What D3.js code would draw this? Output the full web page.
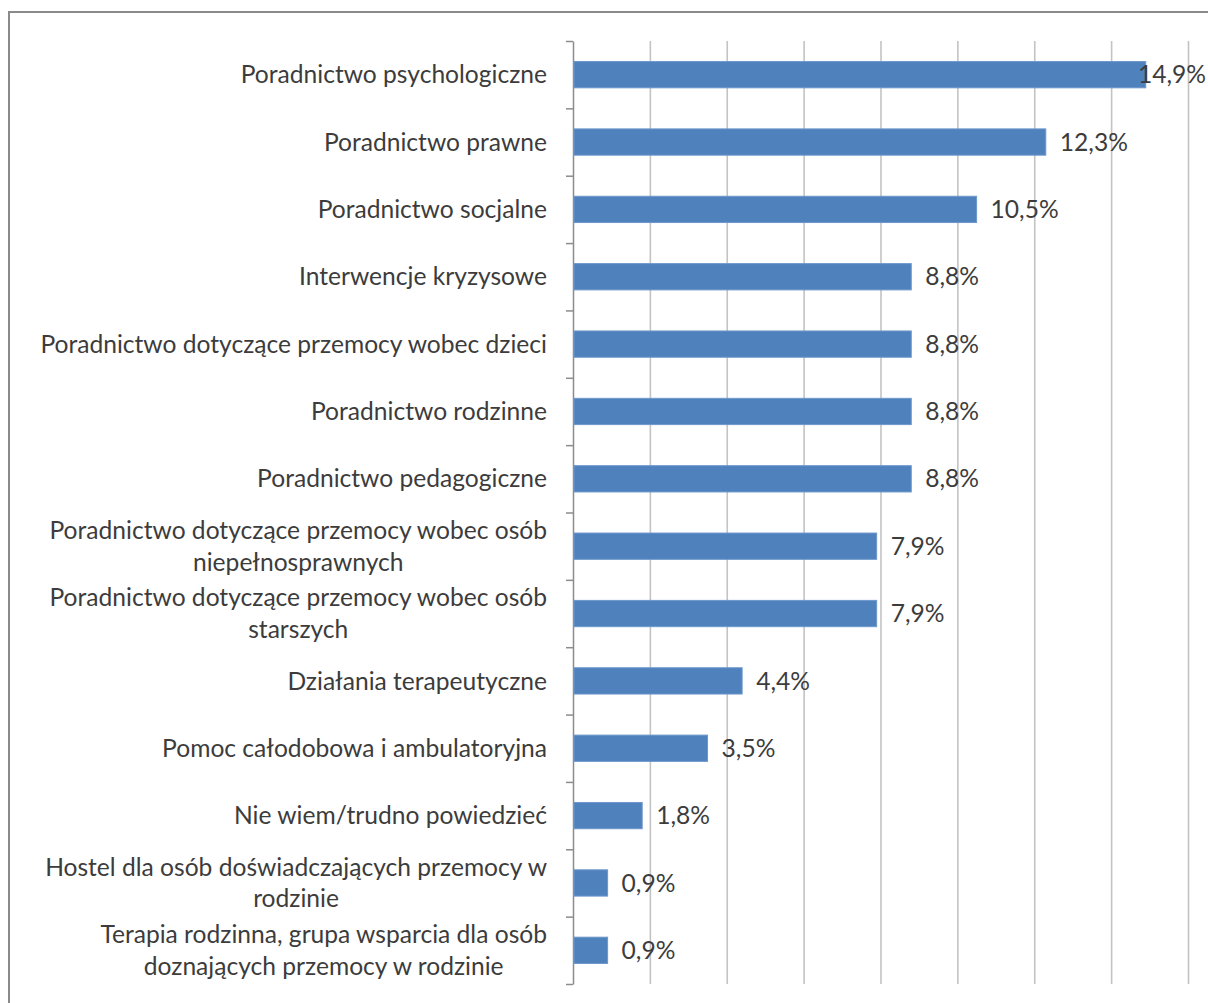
<!DOCTYPE html>
<html>
<head>
<meta charset="utf-8">
<script src="https://cdn.jsdelivr.net/npm/d3@7"></script>
<style>
  body { margin: 0; background: #fff; }
  text { font-family: Lato, "Open Sans", sans-serif; fill: #3c3c3c; }
</style>
</head>
<body>
<svg id="main"></svg>
<script>
// categories (top to bottom); "\n" marks the line break used in the original
var categories = [
  "Poradnictwo psychologiczne",
  "Poradnictwo prawne",
  "Poradnictwo socjalne",
  "Interwencje kryzysowe",
  "Poradnictwo dotyczące przemocy wobec dzieci",
  "Poradnictwo rodzinne",
  "Poradnictwo pedagogiczne",
  "Poradnictwo dotyczące przemocy wobec osób\nniepełnosprawnych",
  "Poradnictwo dotyczące przemocy wobec osób\nstarszych",
  "Działania terapeutyczne",
  "Pomoc całodobowa i ambulatoryjna",
  "Nie wiem/trudno powiedzieć",
  "Hostel dla osób doświadczających przemocy w\nrodzinie",
  "Terapia rodzinna, grupa wsparcia dla osób\ndoznających przemocy w rodzinie"
];
var values = [14.9, 12.3, 10.5, 8.8, 8.8, 8.8, 8.8, 7.9, 7.9, 4.4, 3.5, 1.8, 0.9, 0.9];
var gridTicks = [2, 4, 6, 8, 10, 12, 14, 16];

var w = 1208;
var h = 1003;
var plotLeft = 573;
var plotRight = 1188;
var plotTop = 41;
var plotBottom = 984;
var labelRight = 547;
var fontSize = 24.6;
var lineGap = 31.5;

var svg = d3.select("#main")
  .attr("width", w)
  .attr("height", h);

// outer frame (right and bottom edges fall outside the picture)
svg.append("rect")
  .attr("x", 9)
  .attr("y", 12)
  .attr("width", w + 20)
  .attr("height", h + 20)
  .attr("fill", "none")
  .attr("stroke", "#8a8a8a")
  .attr("stroke-width", 2);

var xScale = d3.scaleLinear()
  .domain([0, 16])
  .range([plotLeft, plotRight]);

var yScale = d3.scaleBand()
  .domain(categories)
  .range([plotTop, plotBottom])
  .paddingInner(0.61)
  .paddingOuter(0.305);

var yEdge = d3.scaleLinear()
  .domain([0, categories.length])
  .range([plotTop, plotBottom]);

// vertical gridlines
var grid = svg.append("g")
  .attr("transform", "translate(0," + plotBottom + ")")
  .call(d3.axisBottom(xScale)
    .tickValues(gridTicks)
    .tickSize(-(plotBottom - plotTop))
    .tickFormat(""));
grid.select(".domain").remove();
grid.selectAll("line")
  .attr("stroke", "#c3c3c3")
  .attr("stroke-width", 1.6);

// category axis with ticks between categories
var yAxis = svg.append("g")
  .attr("transform", "translate(" + plotLeft + ",0)")
  .call(d3.axisLeft(yEdge)
    .tickValues(d3.range(0, categories.length + 1))
    .tickSize(7)
    .tickSizeOuter(0)
    .tickFormat(""));
yAxis.selectAll("line, path")
  .attr("stroke", "#8c8c8c")
  .attr("stroke-width", 1.5);

// bars
svg.selectAll("rect.bar")
  .data(values)
  .enter()
  .append("rect")
  .attr("class", "bar")
  .attr("x", xScale(0) + 1)
  .attr("y", function(d, i) { return yScale(categories[i]); })
  .attr("width", function(d) { return xScale(d) - xScale(0) - 1; })
  .attr("height", yScale.bandwidth())
  .attr("fill", "#4f81bd")
  .attr("stroke", "#6d97cc")
  .attr("stroke-width", 1);

// value labels, pulled back to stay inside the picture
var fmt = function(v) { return d3.format(".1f")(v).replace(".", ",") + "%"; };
svg.selectAll("text.val")
  .data(values)
  .enter()
  .append("text")
  .attr("class", "val")
  .attr("y", function(d, i) { return yScale(categories[i]) + yScale.bandwidth() / 2; })
  .attr("dy", "0.35em")
  .attr("font-size", fontSize)
  .text(fmt)
  .attr("x", function(d) {
    var tw = this.getComputedTextLength();
    return Math.min(xScale(d) + 14, w - 2 - tw);
  });

// category labels: right aligned block, lines centered inside it
categories.forEach(function(c, i) {
  var lines = c.split("\n");
  var cy = yScale(c) + yScale.bandwidth() / 2;
  var g = svg.append("g");
  var texts = lines.map(function(line, j) {
    return g.append("text")
      .attr("y", cy + (j - (lines.length - 1) / 2) * lineGap)
      .attr("dy", "0.35em")
      .attr("font-size", fontSize)
      .attr("text-anchor", "middle")
      .text(line);
  });
  var widths = texts.map(function(t) { return t.node().getComputedTextLength(); });
  var blockW = d3.max(widths);
  texts.forEach(function(t) { t.attr("x", labelRight - blockW / 2); });
});
</script>
</body>
</html>
